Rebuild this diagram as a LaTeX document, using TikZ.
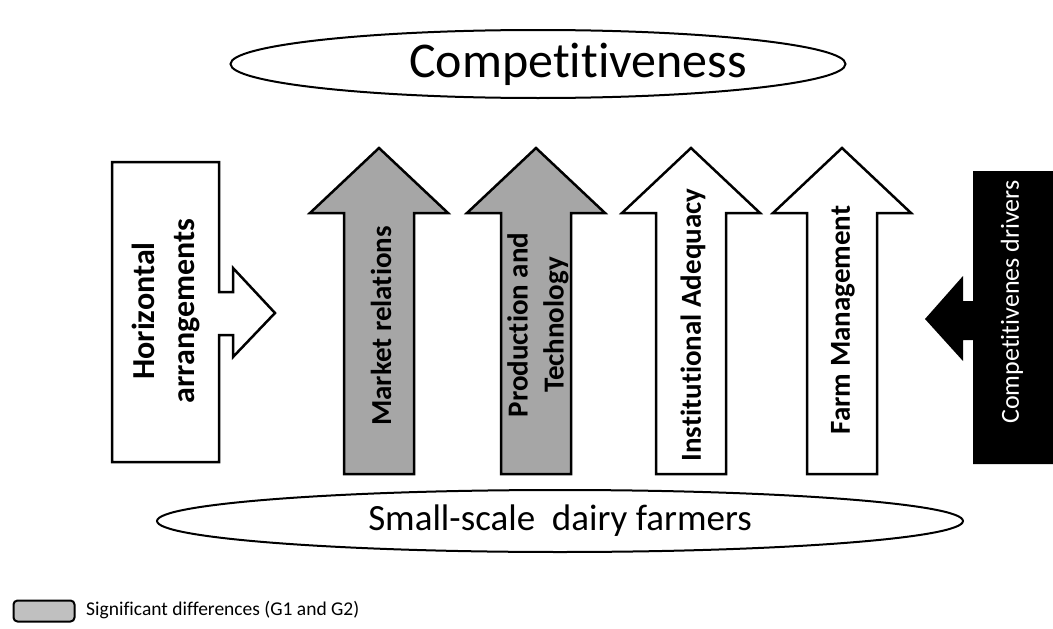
\documentclass[tikz,border=0pt]{standalone}
\usepackage{fontspec}
\setmainfont[Ligatures={NoCommon,NoContextual,NoRare}]{Carlito}
\usetikzlibrary{shapes.geometric,positioning}
\definecolor{sigfill}{RGB}{166,166,166}
\definecolor{legfill}{RGB}{192,192,192}

\begin{document}
\begin{tikzpicture}[x=1pt, y=-1pt,
    blk/.style={draw=black, line width=2.5pt, line join=miter, fill=white},
    oval/.style={ellipse, draw=black, line width=2pt, fill=white, inner sep=0pt},
    vlab/.style={rotate=90, align=center, inner sep=0pt,
                 font=\fontsize{29}{36}\selectfont\bfseries},
    legbox/.style={rectangle, rounded corners=4pt, draw=black, line width=2pt,
                   fill=legfill, minimum width=61, minimum height=21}
  ]
    \useasboundingbox (0,0) rectangle (1053,629);

    % Top and bottom ovals
    \node[oval, minimum width=615, minimum height=68] (compoval) at (538,64) {};
    \node[font=\fontsize{50}{60}\selectfont] (comptext) at (578,64) {Competitiveness};
    \node[oval, minimum width=806, minimum height=62,
          font=\fontsize{37}{44}\selectfont] (farmers) at (560,521)
          {Small-scale\ \ dairy farmers};

    % Left callout: box with arrow to the right
    \draw[blk] (112,162) -- (219,162) -- (219,292) -- (233,292) -- (233,268)
               -- (275,313) -- (233,357) -- (233,335) -- (219,335) -- (219,462)
               -- (112,462) -- cycle;
    \node[vlab, font=\fontsize{32}{40}\selectfont\bfseries] (horiz) at (166,311)
          {Horizontal\\arrangements};

    % Up arrows (grey = significant)
    \draw[blk, fill=sigfill, shift={(379,0)}] (-35,474) -- (-35,213) -- (-69,213)
          -- (0,148) -- (69,213) -- (35,213) -- (35,474) -- cycle;
    \node[vlab] (market) at (381,326) {Market relations};

    \draw[blk, fill=sigfill, shift={(536,0)}] (-35,474) -- (-35,213) -- (-69,213)
          -- (0,148) -- (69,213) -- (35,213) -- (35,474) -- cycle;
    \node[vlab] (prod) at (538,325) {Production and\\Technology};

    \draw[blk, shift={(691,0)}] (-35,474) -- (-35,213) -- (-69,213)
          -- (0,148) -- (69,213) -- (35,213) -- (35,474) -- cycle;
    \node[vlab] (inst) at (693,325) {Institutional Adequacy};

    \draw[blk, shift={(842,0)}] (-35,474) -- (-35,213) -- (-69,213)
          -- (0,148) -- (69,213) -- (35,213) -- (35,474) -- cycle;
    \node[vlab] (farm) at (843,320) {Farm Management};

    % Right callout: black box with arrow to the left
    \fill[black] (1053,171) -- (973,171) -- (973,301) -- (963,301) -- (963,276)
                 -- (925,319) -- (963,361) -- (963,340) -- (973,340) -- (973,464)
                 -- (1053,464) -- cycle;
    \node[rotate=90, inner sep=0pt, text=white,
          font=\fontsize{26}{32}\selectfont] (drivers) at (1012,302)
          {Competitivenes drivers};

    % Legend
    \node[legbox] (leg) at (44,611) {};
    \node[anchor=west, inner sep=0pt, font=\fontsize{19.5}{24}\selectfont]
          (legtext) at (86,610) {Significant differences (G1 and G2)};
  \end{tikzpicture}
\end{document}
